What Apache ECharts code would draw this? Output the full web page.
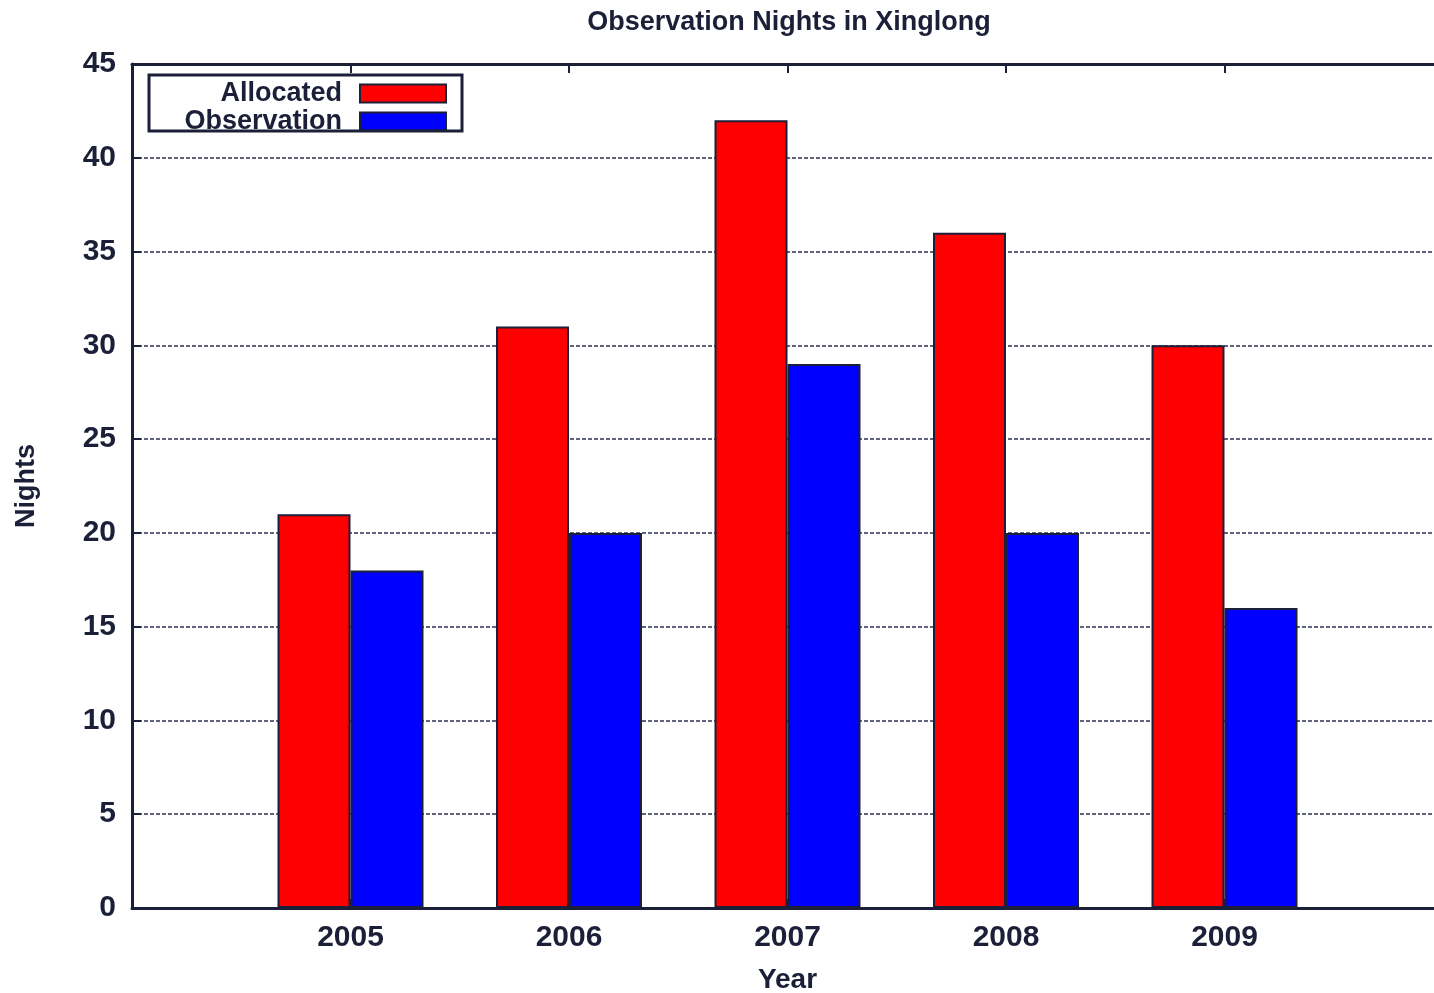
<!DOCTYPE html>
<html>
<head>
<meta charset="utf-8">
<script src="https://cdn.jsdelivr.net/npm/echarts@6/dist/echarts.min.js"></script>
<style>
  html, body { margin: 0; padding: 0; background: #ffffff; }
  #chart { width: 1434px; height: 993px; }
</style>
</head>
<body>
<div id="chart"></div>
<script>
// Observation nights per year at Xinglong station
const years = [2005, 2006, 2007, 2008, 2009];
const allocated = [21, 31, 42, 36, 30];
const observation = [18, 20, 29, 20, 16];
const yTicks = [0, 5, 10, 15, 20, 25, 30, 35, 40, 45];

const ink = '#1b1f38';
const font = '"Liberation Sans", Arial, Helvetica, sans-serif';

const chart = echarts.init(document.getElementById('chart'), null, { renderer: 'canvas' });

const yearAxisBase = {
  type: 'value',
  min: 2004,
  max: 2010,
  interval: 1,
  splitLine: { show: false },
  axisLine: { show: true, onZero: false, lineStyle: { color: ink, width: 3 } },
  axisTick: { show: true, inside: true, length: 9, lineStyle: { color: ink, width: 2 } }
};

chart.setOption({
  animation: false,
  backgroundColor: '#ffffff',
  title: {
    text: 'Observation Nights in Xinglong',
    left: 784,
    textAlign: 'center',
    top: 4,
    textStyle: { fontFamily: font, fontSize: 27, fontWeight: 'bold', color: ink }
  },
  grid: {
    left: 132, top: 64, width: 1311, height: 844,
    containLabel: false,
    outerBoundsMode: 'none'
  },
  legend: [
    {
      data: ['Allocated'],
      right: 1434 - 447,
      top: 80,
      orient: 'vertical',
      align: 'right',
      padding: 0,
      itemWidth: 86,
      itemHeight: 18,
      icon: 'rect',
      itemStyle: { borderColor: ink, borderWidth: 2 },
      textStyle: { fontFamily: font, fontSize: 27, fontWeight: 'bold', color: ink, padding: [0, 13, 0, 0] }
    },
    {
      data: ['Observation'],
      right: 1434 - 447,
      top: 108,
      orient: 'vertical',
      align: 'right',
      padding: 0,
      itemWidth: 86,
      itemHeight: 18,
      icon: 'rect',
      itemStyle: { borderColor: ink, borderWidth: 2 },
      textStyle: { fontFamily: font, fontSize: 27, fontWeight: 'bold', color: ink, padding: [0, 13, 0, 0] }
    }
  ],
  graphic: [
    {
      type: 'rect',
      shape: { x: 149, y: 75, width: 313, height: 56 },
      style: { fill: null, stroke: ink, lineWidth: 3 },
      z: 100
    }
  ],
  xAxis: [
    Object.assign({}, yearAxisBase, {
      position: 'bottom',
      name: 'Year',
      nameLocation: 'middle',
      nameGap: 58,
      nameTextStyle: { fontFamily: font, fontSize: 28, fontWeight: 'bold', color: ink },
      axisLabel: {
        show: true,
        margin: 15,
        fontFamily: font, fontSize: 30, fontWeight: 'bold', color: ink,
        formatter: function (v) { return years.indexOf(v) >= 0 ? String(v) : ''; }
      }
    }),
    Object.assign({}, yearAxisBase, {
      position: 'top',
      axisLabel: { show: false }
    })
  ],
  yAxis: {
    type: 'value',
    min: yTicks[0],
    max: yTicks[yTicks.length - 1],
    interval: yTicks[1] - yTicks[0],
    name: 'Nights',
    nameLocation: 'middle',
    nameGap: 92,
    nameRotate: 90,
    nameTextStyle: { fontFamily: font, fontSize: 27, fontWeight: 'bold', color: ink },
    axisLine: { show: true, lineStyle: { color: ink, width: 3 } },
    axisTick: { show: true, inside: true, length: 9, lineStyle: { color: ink, width: 2 } },
    axisLabel: { margin: 16, fontFamily: font, fontSize: 30, fontWeight: 'bold', color: ink },
    splitLine: { show: true, lineStyle: { color: '#2b3152', width: 1.5, type: [4, 2] } }
  },
  series: [
    {
      name: 'Allocated',
      type: 'bar',
      xAxisIndex: 0,
      barWidth: 73,
      barGap: '0%',
      data: years.map((y, i) => [y, allocated[i]]),
      itemStyle: { color: '#ff0000', borderColor: ink, borderWidth: 2 }
    },
    {
      name: 'Observation',
      type: 'bar',
      xAxisIndex: 0,
      barWidth: 73,
      barGap: '0%',
      data: years.map((y, i) => [y, observation[i]]),
      itemStyle: { color: '#0000ff', borderColor: ink, borderWidth: 2 }
    }
  ]
});
</script>
</body>
</html>
